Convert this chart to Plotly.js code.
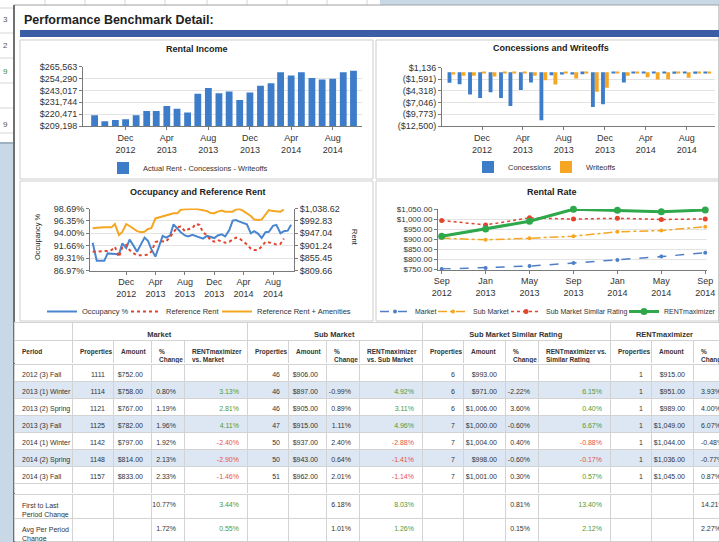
<!DOCTYPE html>
<html>
<head>
<meta charset="utf-8">
<script src="https://cdn.plot.ly/plotly-3.0.1.min.js"></script>
<style>html,body{margin:0;padding:0;background:#c9d8e6;overflow:hidden;}#chart{width:719px;height:542px;}</style>
</head>
<body>
<div id="chart"></div>
<script>
// ---------- Rental Income / Concessions (monthly) ----------
const months = ['2012-09-01','2012-10-01','2012-11-01','2012-12-01','2013-01-01','2013-02-01','2013-03-01','2013-04-01','2013-05-01','2013-06-01','2013-07-01','2013-08-01','2013-09-01','2013-10-01','2013-11-01','2013-12-01','2014-01-01','2014-02-01','2014-03-01','2014-04-01','2014-05-01','2014-06-01','2014-07-01','2014-08-01','2014-09-01','2014-10-01'];
const dateTicks = ['2012-12-01','2013-04-01','2013-08-01','2013-12-01','2014-04-01','2014-08-01'];
const rentalIncome = [219500,213700,215000,215600,219500,223400,223400,228200,225600,222100,239800,245300,240400,242100,234000,241100,247500,249800,260400,257200,260400,254900,253300,254000,260400,261700];
const incomeTicks = [209198,220471,231744,243017,254290,265563];
const concessions = [-2400,-2750,-5170,-5950,-4620,-5950,-7820,-4080,-2370,-11160,-650,-500,-500,-420,-8060,-7430,-60,-2370,-200,-60,-120,-200,-340,-250,-340,-260];
const writeoffs = [-500,-810,-810,-250,-960,-150,-120,-100,-810,-1820,-2830,-150,-1430,-150,-4540,-3610,-100,-810,-150,-1120,-1660,-1590,-150,-1280,-150,-50];
const concTicks = [1136,-1591,-4318,-7046,-9773,-12500];
const concTickText = ['$1,136','($1,591)','($4,318)','($7,046)','($9,773)','($12,500)'];

// ---------- Occupancy and Reference Rent (semi-monthly) ----------
const occDates = ['2012-07-15','2012-08-01','2012-08-15','2012-09-01','2012-09-15','2012-10-01','2012-10-15','2012-11-01','2012-11-15','2012-12-01','2012-12-15',
'2013-01-01','2013-01-15','2013-02-01','2013-02-15','2013-03-01','2013-03-15','2013-04-01','2013-04-15','2013-05-01','2013-05-15','2013-06-01','2013-06-15','2013-07-01','2013-07-15','2013-08-01','2013-08-15','2013-09-01','2013-09-15','2013-10-01','2013-10-15','2013-11-01','2013-11-15','2013-12-01','2013-12-15',
'2014-01-01','2014-01-15','2014-02-01','2014-02-15','2014-03-01','2014-03-15','2014-04-01','2014-04-15','2014-05-01','2014-05-15','2014-06-01','2014-06-15','2014-07-01','2014-07-15','2014-08-01','2014-08-15','2014-09-01','2014-09-15','2014-10-01','2014-10-15'];
const occupancy = [92.2,88.8,88.8,88.8,90.2,90.2,90.1,90.0,92.1,91.2,92.8,91.6,90.5,92.0,93.2,92.6,91.0,89.6,91.5,93.5,93.2,93.6,95.7,94.8,94.2,93.6,93.4,93.7,93.5,93.2,93.0,93.5,93.3,93.1,93.6,93.8,93.4,94.6,96.4,96.5,96.2,95.9,95.7,94.0,94.4,93.9,93.1,94.2,94.3,95.4,95.6,94.0,94.4,94.5,95.6];
const refRent = [879,880,879,881,882,885,897,860,895,904,885,873,866,866,866,868,879,915,918,918,916,934,952,970,972,955,962,966,982,978,950,940,922,916,922,918,912,916,924,931,928,916,906,890,885,886,898,916,912,910,906,908,928,null,null];
const refRentAmen = [966,966,968,969,969,969,981,941,952,981,974,963,955,951,953,963,966,1002,1005,1011,1014,1016,1021,1021,1034,1036,1037,1037,1038,1035,1033,1029,1022,1021,1027,1031,1027,1026,1027,1035,1037,1029,1021,1011,998,996,998,1018,1033,1029,1028,1027,1035,null,null];
const occTicks = [86.97,89.31,91.66,94.00,96.35,98.69];
const rentTicks = [809.66,855.45,901.24,947.04,992.83,1038.62];

// ---------- Table / Rental Rate ----------
const periods = ['2012 (3) Fall','2013 (1) Winter','2013 (2) Spring','2013 (3) Fall','2014 (1) Winter','2014 (2) Spring','2014 (3) Fall'];
const rateLabels = ['Sep<br>2012','Jan<br>2013','May<br>2013','Sep<br>2013','Jan<br>2014','May<br>2014','Sep<br>2014'];
const marketProps = [1111,1114,1121,1125,1142,1148,1157];
const marketAmt = [752,758,767,782,797,814,833];
const marketChg = [null,0.80,1.19,1.96,1.92,2.13,2.33];
const marketVs = [null,3.13,2.81,4.11,-2.40,-2.90,-1.46];
const subProps = [46,46,46,47,50,50,51];
const subAmt = [906,897,905,915,937,943,962];
const subChg = [null,-0.99,0.89,1.11,2.40,0.64,2.01];
const subVs = [null,4.92,3.11,4.96,-2.88,-1.41,-1.14];
const simProps = [6,6,6,7,7,7,7];
const simAmt = [993,971,1006,1000,1004,998,1001];
const simChg = [null,-2.22,3.60,-0.60,0.40,-0.60,0.30];
const simVs = [null,6.15,0.40,6.67,-0.88,-0.17,0.57];
const rmProps = [1,1,1,1,1,1,1];
const rmAmt = [915,951,989,1049,1044,1036,1045];
const rmChg = [null,3.93,4.00,6.07,-0.48,-0.77,0.87];
const summaryLabels = ['First to Last<br>Period Change','Avg Per Period<br>Change'];
const marketChgSum = [10.77,1.72];
const marketVsSum = [3.44,0.55];
const subChgSum = [6.18,1.01];
const subVsSum = [8.03,1.26];
const simChgSum = [0.81,0.15];
const simVsSum = [13.40,2.12];
const rmChgSum = [14.21,2.27];
const groupHeaders = ['', 'Market', 'Sub Market', 'Sub Market Similar Rating', 'RENTmaximizer'];
const colHeaders = ['Period','Properties','Amount','%<br>Change','RENTmaximizer<br>vs. Market','Properties','Amount','%<br>Change','RENTmaximizer<br>vs. Sub Market','Properties','Amount','%<br>Change','RENTmaximizer vs.<br>Similar Rating','Properties','Amount','%<br>Change'];

// ---------- helpers ----------
const W = 719, H = 542;
const X = p => p / W;
const Y = p => 1 - p / H;
const FONT = 'Liberation Sans, Arial, sans-serif';
const BLUE = '#3d7cc9', ORANGE = '#f5a623', RED = '#e4432d', GREEN = '#2ea84a', LBLUE = '#4a86d0';
const NB = s => s.replace(/ /g, '\u00a0');

const money = v => '$' + v.toLocaleString('en-US', {minimumFractionDigits: 2, maximumFractionDigits: 2});
const pct = v => (v === null || v === undefined) ? '' : v.toFixed(2) + '%';
const GREENTXT = '#4e9a3a', REDTXT = '#e8533f', TXT = '#333333', ALT = '#dce7f3';
const vsColor = v => (v === null || v === undefined) ? TXT : (v < 0 ? REDTXT : GREENTXT);

// ---------- chart traces ----------
const traces = [];
traces.push({type:'bar', x:months, y:rentalIncome, xaxis:'x', yaxis:'y', name:'Actual Rent - Concessions - Writeoffs',
  marker:{color:BLUE}, width:20*86400000, legend:'legend', hoverinfo:'skip'});
traces.push({type:'bar', x:months, y:concessions, xaxis:'x2', yaxis:'y2', name:'Concessions', marker:{color:BLUE}, legend:'legend2', hoverinfo:'skip'});
traces.push({type:'bar', x:months, y:writeoffs, xaxis:'x2', yaxis:'y2', name:'Writeoffs', marker:{color:ORANGE}, legend:'legend3', hoverinfo:'skip'});

traces.push({type:'scatter', mode:'lines', x:occDates, y:occupancy, xaxis:'x3', yaxis:'y3', name:'Occupancy %', line:{color:LBLUE, width:2}, legend:'legend4', hoverinfo:'skip'});
traces.push({type:'scatter', mode:'lines', x:occDates, y:refRent, xaxis:'x3', yaxis:'y4', name:'Reference Rent', line:{color:RED, width:2, dash:'dot'}, legend:'legend5', hoverinfo:'skip'});
traces.push({type:'scatter', mode:'lines', x:occDates, y:refRentAmen, xaxis:'x3', yaxis:'y4', name:'Reference Rent + Amenities', line:{color:ORANGE, width:2}, legend:'legend6', hoverinfo:'skip'});

traces.push({type:'scatter', mode:'lines+markers', x:rateLabels, y:marketAmt, xaxis:'x4', yaxis:'y5', name:'Market', line:{color:'#4f7fc4', width:1.5, dash:'dash'}, marker:{size:4, color:'#4f7fc4'}, cliponaxis:false, legend:'legend7', hoverinfo:'skip'});
traces.push({type:'scatter', mode:'lines+markers', x:rateLabels, y:subAmt, xaxis:'x4', yaxis:'y5', name:'Sub Market', line:{color:ORANGE, width:1.5, dash:'dashdot'}, marker:{size:4, color:ORANGE}, cliponaxis:false, legend:'legend8', hoverinfo:'skip'});
traces.push({type:'scatter', mode:'lines+markers', x:rateLabels, y:simAmt, xaxis:'x4', yaxis:'y5', name:'Sub Market Similar Rating', line:{color:RED, width:1.5, dash:'dot'}, marker:{size:5, color:RED}, cliponaxis:false, legend:'legend9', hoverinfo:'skip'});
traces.push({type:'scatter', mode:'lines+markers', x:rateLabels, y:rmAmt, xaxis:'x4', yaxis:'y5', name:'RENTmaximizer', line:{color:GREEN, width:3}, marker:{size:7, color:GREEN}, cliponaxis:false, legend:'legend10', hoverinfo:'skip'});

// ---------- table ----------
const idf = v => String(v);
const dataCols = [
  [periods, idf], [marketProps, idf], [marketAmt, money], [marketChg, pct], [marketVs, pct],
  [subProps, idf], [subAmt, money], [subChg, pct], [subVs, pct],
  [simProps, idf], [simAmt, money], [simChg, pct], [simVs, pct],
  [rmProps, idf], [rmAmt, money], [rmChg, pct]
];
const vsIdx = [4, 8, 12];
const cellText = (ci, r) => { const [arr, f] = dataCols[ci]; const v = arr[r]; return v === null ? '' : NB(f(v)); };
const cellColor = (ci, r) => vsIdx.includes(ci) ? vsColor(dataCols[ci][0][r]) : TXT;
const rowBg = r => (r % 2 === 1 ? ALT : '#ffffff');
const nData = periods.length;

const sumCols = [null, null, null, marketChgSum, marketVsSum, null, null, subChgSum, subVsSum, null, null, simChgSum, simVsSum, null, null, rmChgSum];

const colWidths = [58,41,38,33,63,41,38,33,63,41,42,33,72,41,42,26];
const groupWidths = [58,175,175,188,109];
const aligns = ['left'].concat(Array(14).fill('right'), ['left']);
const LINE = {color:'#d3d3d3', width:1};
const TF = {family:FONT, size:7, color:TXT};
const HF = {family:FONT, size:6.5, color:TXT};
const DX = [X(14), 1];
const blankCells = n => Array.from({length:n}, () => ['']);

// data rows (multi-row table first): first period drawn as the table header, remaining periods as cells
traces.push({type:'table', domain:{x:DX, y:[Y(483.5), Y(364)]}, columnwidth:colWidths,
  header:{values:colWidths.map((w, ci) => cellText(ci, 0)), align:aligns, height:17, fill:{color:rowBg(0)}, line:LINE,
    font:Object.assign({}, TF, {color:colWidths.map((w, ci) => cellColor(ci, 0))})},
  cells:{values:colWidths.map((w, ci) => Array.from({length:nData - 1}, (_, k) => cellText(ci, k + 1))),
    align:aligns, height:17,
    fill:{color:colWidths.map(() => Array.from({length:nData - 1}, (_, k) => rowBg(k + 1)))}, line:LINE,
    font:Object.assign({}, TF, {color:colWidths.map((w, ci) => Array.from({length:nData - 1}, (_, k) => cellColor(ci, k + 1)))})}});

// one-row table helper: the row is drawn as the table header
function rowTable(vals, widths, top, bottom, h, font, align, fill) {
  traces.push({type:'table', domain:{x:DX, y:[Y(bottom), Y(top)]}, columnwidth:widths,
    header:{values:vals, align:align, height:h, fill:{color:fill || '#ffffff'}, line:LINE, font:font},
    cells:{values:blankCells(widths.length), height:1, fill:{color:'#ffffff'}, line:LINE, font:{size:1}}});
}
// summary rows
[[494, 518], [518, 542]].forEach(([top, bottom], i) => {
  rowTable(sumCols.map((a, ci) => ci === 0 ? NB(summaryLabels[i]) : (a ? pct(a[i]) : '')), colWidths, top, bottom, 23,
    Object.assign({}, TF, {color:sumCols.map((a, ci) => (a && vsIdx.includes(ci)) ? vsColor(a[i]) : TXT)}), aligns);
});
// blank spacer row
rowTable(colWidths.map(() => ''), colWidths, 483, 494, 10, TF, 'left');
// column header row
rowTable(colHeaders.map(t => '<b>' + NB(t) + '</b>'), colWidths, 340, 364, 23, HF, 'left');
// group header row
rowTable(groupHeaders.map(t => t ? '<b>' + NB(t) + '</b>' : ''), groupWidths, 322, 340, 17,
  {family:FONT, size:7.5, color:TXT}, 'center');

// ---------- layout ----------
const ax = {showline:true, linecolor:'#7a7a7a', linewidth:1, ticks:'outside', ticklen:3, tickcolor:'#7a7a7a',
  tickfont:{family:FONT, size:9, color:'#333'}, showgrid:false, zeroline:false, fixedrange:true};
const gy = {gridcolor:'#e3e3e3', showgrid:true};

const shapes = [];
function rect(x0, y0, x1, y1, fill, line, lw) {
  shapes.push({type:'rect', xref:'paper', yref:'paper', x0:X(x0), x1:X(x1), y0:Y(y1), y1:Y(y0),
    fillcolor:fill, line:{color:line || 'rgba(0,0,0,0)', width:lw || 0}, layer:'below'});
}
function line(x0, y0, x1, y1, color, w) {
  shapes.push({type:'line', xref:'paper', yref:'paper', x0:X(x0), x1:X(x1), y0:Y(y0), y1:Y(y1),
    line:{color:color, width:w}, layer:'below'});
}
rect(0, 0, 380, 142, '#ffffff');
[45, 85, 125, 165, 207, 247, 287, 327, 367].forEach(x => line(x, 0, x, 142, '#d6d6d6', 1));
[8, 33, 58, 83, 108, 133].forEach(y => line(0, y, 380, y, '#d6d6d6', 1));
line(0, 143, 14, 143, '#9fb2c4', 2);
rect(14, 5, 719, 542, '#ffffff', '#a0a0a0', 1);
line(14, 5, 14, 542, '#707070', 2);
rect(20, 30, 719, 37, '#3a5da6');
rect(20, 40, 373, 179, 'rgba(0,0,0,0)', '#cdcdcd', 1);
rect(376, 40, 719, 179, 'rgba(0,0,0,0)', '#cdcdcd', 1);
rect(20, 181, 373, 321, 'rgba(0,0,0,0)', '#cdcdcd', 1);
rect(376, 181, 719, 321, 'rgba(0,0,0,0)', '#cdcdcd', 1);

function ann(text, x, y, size, opts) {
  return Object.assign({text:text, xref:'paper', yref:'paper', x:X(x), y:Y(y), showarrow:false,
    xanchor:'center', yanchor:'middle', font:{family:FONT, size:size, color:'#222'}}, opts || {});
}
const annotations = [
  ann('<b>Performance Benchmark Detail:</b>', 22, 20, 12.5, {xanchor:'left'}),
  ann('<b>Rental Income</b>', 197, 49, 9),
  ann('<b>Concessions and Writeoffs</b>', 551, 48, 9),
  ann('<b>Occupancy and Reference Rent</b>', 198, 192, 9),
  ann('<b>Rental Rate</b>', 552, 192, 9),
  ann('Occupancy %', 38, 237, 7.5, {textangle:-90}),
  ann('Rent', 354, 237, 7.5, {textangle:90}),
  ann('3', 5, 20, 8, {font:{family:FONT, size:8, color:'#555'}}),
  ann('2', 5, 46, 8, {font:{family:FONT, size:8, color:'#555'}}),
  ann('9', 5, 71, 8, {font:{family:FONT, size:8, color:'#3a8a3a'}}),
  ann('9', 5, 125, 8, {font:{family:FONT, size:8, color:'#555'}})
];

function leg(textStart, y, fs) {
  return {orientation:'h', xanchor:'left', yanchor:'middle', x:X(textStart - 40), y:Y(y), bgcolor:'rgba(0,0,0,0)',
    font:{family:FONT, size:fs || 7.5, color:'#333'}, itemwidth:30, borderwidth:0};
}

const layout = {
  width:W, height:H, autosize:false, margin:{l:0, r:0, t:0, b:0, autoexpand:false},
  paper_bgcolor:'#c9d8e6', plot_bgcolor:'rgba(0,0,0,0)',
  font:{family:FONT, size:9, color:'#333'},
  barmode:'group', bargap:0.18, bargroupgap:0,
  showlegend:true,
  xaxis: Object.assign({}, ax, {type:'date', domain:[X(83), X(362)], anchor:'y', range:['2012-07-29','2014-10-26'],
    tickmode:'array', tickvals:dateTicks, tickformat:'%b<br>%Y'}),
  yaxis: Object.assign({}, ax, gy, {domain:[Y(126), Y(66.7)], anchor:'x', range:[incomeTicks[0], incomeTicks[5]],
    tickmode:'array', tickvals:incomeTicks, tickformat:'$,.0f'}),
  xaxis2: Object.assign({}, ax, {type:'date', domain:[X(442), X(715)], anchor:'y2', range:['2012-08-04','2014-10-24'],
    tickmode:'array', tickvals:dateTicks, tickformat:'%b<br>%Y'}),
  yaxis2: Object.assign({}, ax, gy, {domain:[Y(126), Y(67.5)], anchor:'x2', range:[-12500, 1136],
    tickmode:'array', tickvals:concTicks, ticktext:concTickText}),
  xaxis3: Object.assign({}, ax, {type:'date', domain:[X(90), X(294)], anchor:'y3', range:['2012-07-04','2014-10-27'],
    tickmode:'array', tickvals:dateTicks, tickformat:'%b<br>%Y'}),
  yaxis3: Object.assign({}, ax, gy, {domain:[Y(270.5), Y(208.5)], anchor:'x3', range:[occTicks[0], occTicks[5]],
    tickmode:'array', tickvals:occTicks, ticktext:occTicks.map(v => v.toFixed(2) + '%')}),
  yaxis4: Object.assign({}, ax, {overlaying:'y3', side:'right', anchor:'x3', range:[rentTicks[0], rentTicks[5]],
    tickmode:'array', tickvals:rentTicks, tickformat:'$,.2f'}),
  xaxis4: Object.assign({}, ax, {type:'category', domain:[X(438), X(707)], anchor:'y5', range:[-0.084, 6.04]}),
  yaxis5: Object.assign({}, ax, gy, {domain:[Y(269.5), Y(209)], anchor:'x4', range:[750, 1050], dtick:50,
    tickformat:'$,.2f', tickfont:{family:FONT, size:8, color:'#333'}}),
  legend: leg(143, 168),
  legend2: leg(508, 167),
  legend3: leg(586, 167),
  legend4: leg(82, 311.5),
  legend5: leg(166, 311.5),
  legend6: leg(257, 311.5),
  legend7: leg(415, 311.5, 7),
  legend8: leg(473, 311.5, 7),
  legend9: leg(546, 311.5, 7),
  legend10: leg(664, 311.5, 7),
  shapes: shapes,
  annotations: annotations
};

Plotly.newPlot('chart', traces, layout, {displayModeBar:false});
</script>
</body>
</html>
